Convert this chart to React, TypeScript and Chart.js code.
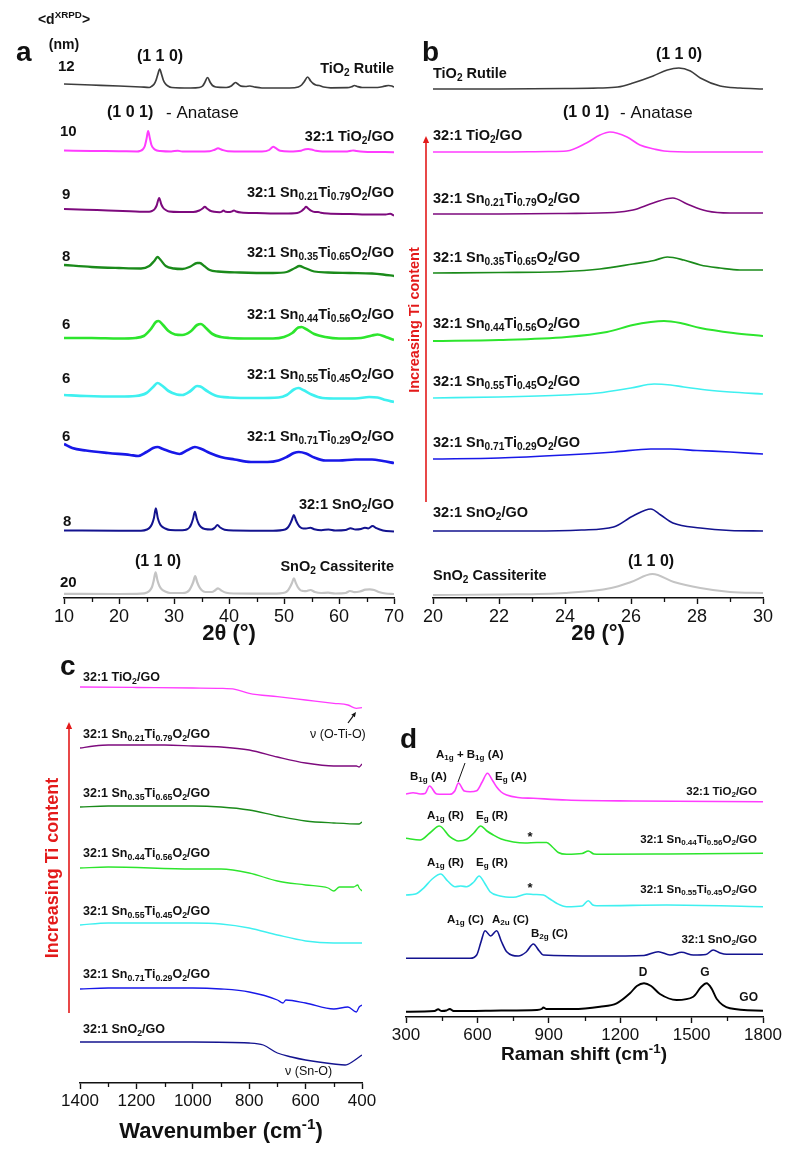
import React, { useEffect, useRef } from "react";
import { Chart, registerables } from "chart.js";
Chart.register(...registerables);

const FONT = "'Liberation Sans', Arial, Helvetica, sans-serif";
const W = 797;
const H = 1153;

type P = [number, number];

// ---------- Panel a : XRPD 2θ 10–70 (stacked intensities, a.u.) ----------
const aRutile: P[] = [[10,514],[15,513],[20,512],[24,511],[25.5,510.5],[26.0,512],[26.4,514],[26.75,518],[27.05,523.5],[27.4,529],[27.75,523.5],[28.05,518],[28.4,514.5],[28.9,512],[29.6,510.5],[33,510],[34.6,510.5],[35.2,512],[35.6,515.5],[36.1,520.5],[36.6,515.5],[37.0,512.5],[37.6,511],[39.5,510.5],[40.4,512],[40.9,514.5],[41.2,515.5],[41.6,514],[42.2,511.8],[43,511.5],[43.8,512],[44.6,511],[46,510],[51,510],[52.6,511],[53.2,513],[53.7,516.5],[54.3,521],[54.85,517],[55.3,514.5],[55.8,513],[56.4,512.5],[57.2,511],[58.5,510.2],[61.5,510.3],[62.3,511.3],[62.8,512.5],[63.3,511.5],[64.2,510.5],[67,510.5],[68.3,511.8],[69,512.5],[69.6,512],[70,511]];
const aTiO2GO: P[] = [[10,447.5],[15,447],[20,446.8],[23.3,446.5],[23.8,447],[24.3,448.5],[24.7,452],[25.0,459],[25.3,467],[25.6,460],[25.9,453],[26.3,449.5],[26.9,447.5],[27.5,447],[29.5,446.5],[30.7,447.3],[31.5,446.5],[36.5,446.8],[37.4,448.3],[38.0,449.7],[38.7,448.3],[39.8,446.8],[46,446.5],[47.3,448],[47.8,450.5],[48.05,451.3],[48.5,449.8],[49.3,447.3],[51,446.5],[53.1,447.3],[53.9,448.8],[54.4,449],[55,448.5],[55.8,447.3],[57,446.5],[61.5,446.5],[62.2,447.2],[62.6,447.6],[63.2,447],[64.5,446.3],[70,445.8]];
const aSn21: P[] = [[10,389],[14,388.3],[18,387.5],[22,386.8],[25.5,386.3],[26.0,387],[26.5,389],[26.85,392.5],[27.3,400],[27.7,393.5],[28.05,390],[28.5,388],[29.1,386.5],[31,386],[33.5,386],[34.6,387.5],[35.2,389.5],[35.6,391.3],[36.0,389.5],[36.5,387.5],[37.3,386.2],[38.3,385.8],[38.7,386.4],[39.0,387.5],[39.4,386.2],[40.2,386],[40.6,386.7],[40.9,387.6],[41.3,386.5],[42.2,385.5],[45,385],[50,384.5],[52.4,385],[53.2,387],[53.7,389.5],[54.0,391.3],[54.4,389.5],[54.9,387.3],[55.6,386],[56.2,386],[56.7,385.3],[58,384.5],[62,384],[66,383.5],[68.5,383.5],[69.3,384.2],[70,382.5]];
const aSn35: P[] = [[10,333],[15,331],[20,330],[24,329.5],[25.5,332],[26.4,337],[27.0,341],[27.5,338.5],[28.5,332],[30,329.5],[31.5,329],[33,331.5],[34.2,335],[34.7,335],[35.5,332],[36.5,328],[38,326.5],[42,325.5],[48,325],[50.5,326],[52,330],[52.8,332],[53.8,330],[55.5,326.5],[58,325.5],[62,325],[66,324.5],[68,323.5],[70,322]];
const aSn44: P[] = [[10,260],[15,260],[20,259.5],[23,260],[24.5,262],[25.8,269],[26.7,276],[27.2,277],[28,273],[29,267],[30.2,263.5],[31.5,263],[33,266.5],[34.2,273],[34.9,274],[35.8,270],[37,264],[38.5,261],[40,260],[44,259.5],[48,259.5],[50,261],[51.5,265],[52.6,270.5],[53.2,271],[54,269],[55.5,264],[57.5,261],[60,259.5],[64,260],[66,262.5],[67,263.5],[68.5,261],[70,258]];
const aSn55: P[] = [[10,203],[14,202],[20,201.5],[23,202],[25,205],[26.2,211],[27,215],[27.8,212.5],[29,207],[30.5,203.5],[31.5,203],[33,207],[34.2,212],[34.8,211.5],[36,207],[37.5,202.5],[40,200.5],[45,200],[49,200.5],[50.5,203],[51.8,208.5],[52.6,210],[53.5,208],[55,203.5],[57,200],[60,199.5],[63,199.5],[65.5,201],[67,200.5],[68.5,198],[70,196]];
const aSn71: P[] = [[10,154],[11.5,150],[14,147.5],[18,145],[22,143],[23.5,142],[25,146],[26.2,150],[27,151],[28,149],[29.5,146],[31,144],[32.5,148],[33.8,151],[35,149],[36.5,145],[38.5,141],[41,138.5],[44,136],[47,136],[49,137.5],[50.5,141],[51.8,145],[52.7,146],[54,144.5],[55.5,140.5],[57.5,137.5],[60,137.5],[63,138.5],[66,138.5],[68,137],[70,135]];
const aSnO2GO: P[] = [[10,67.5],[20,67.3],[24,67.3],[25.1,68.5],[25.6,70.5],[26.0,74],[26.35,80],[26.7,89.7],[27.05,80],[27.4,74.5],[27.8,71.5],[28.4,69.5],[29.3,68],[31.5,67.8],[32.3,68.5],[32.8,70.5],[33.15,74],[33.45,79],[33.8,86.3],[34.15,79],[34.5,74],[34.9,71],[35.6,69],[36.8,68.5],[37.4,70.2],[37.9,73],[38.4,70.5],[39.2,68.3],[41,67.5],[48,67.3],[50.2,68.5],[50.7,70.5],[51.1,74],[51.45,78.5],[51.8,83],[52.15,78],[52.5,74],[52.9,71],[53.5,69.5],[54.0,69.5],[54.8,70.3],[55.5,68.8],[56.8,67.8],[58.1,68.5],[59.3,67.5],[61.2,68],[62.1,69.8],[63,68.5],[64,69],[64.7,70.3],[65.3,69.6],[66.1,72],[66.8,69.8],[68,67.5],[70,66.5]];
const aCass: P[] = [[10,4.2],[20,4],[24,4.3],[25.1,5.5],[25.6,7.5],[26.0,11],[26.3,17],[26.65,25.7],[27.0,17.5],[27.35,12],[27.8,8.5],[28.4,6.5],[29.3,5],[31.5,5],[32.3,5.8],[32.8,8],[33.15,11.5],[33.5,16],[33.85,22],[34.2,16],[34.55,11.5],[35,8],[35.7,6],[36.9,6],[37.5,7.8],[38,9.7],[38.6,7.5],[39.5,5.2],[41,4.5],[48,4.3],[50.2,5.5],[50.7,7.5],[51.1,11],[51.45,15],[51.8,19.7],[52.15,15],[52.5,11],[52.95,8],[53.5,7],[54.0,6.8],[54.8,8],[55.6,6],[56.8,5],[58,5.3],[59.3,4.5],[61.2,5],[62.0,7],[62.8,5.8],[63.8,6.5],[64.8,8.3],[65.6,8.7],[66.4,8],[67.4,5.8],[68.5,4.5],[70,4]];

// ---------- Panel b : XRPD 2θ 20–30 ----------
const bRutile: P[] = [[20,509],[22,509],[24,509.5],[25,510],[25.6,511],[26.06,515],[26.67,522],[27.1,528],[27.45,530],[27.8,527],[28.1,520],[28.7,512],[29.3,510],[30,509]];
const bTiO2GO: P[] = [[20,446],[22,446],[23.5,446.5],[24.05,447],[24.65,455],[25.06,463],[25.36,466],[25.88,461],[26.27,453],[26.7,449],[27,447],[28,446],[30,446]];
const bSn21: P[] = [[20,384],[22,384],[24,384.5],[25.5,385.5],[26.06,388],[26.67,395],[27.27,400],[27.7,394],[28.3,387],[29,385],[30,385]];
const bSn35: P[] = [[20,325],[22,325.5],[24,326.5],[25.06,329],[26.06,334],[26.7,337.5],[27.1,341],[27.6,338],[28.1,333],[28.7,330],[29.3,328],[30,328]];
const bSn44: P[] = [[20,257],[22,258],[24.05,261],[25.27,266],[26.06,273],[26.6,276],[27,277],[27.5,275],[28.1,270],[29.1,265],[30,262]];
const bSn55: P[] = [[20,200],[22,201],[24,203],[25,205],[26.0,210],[26.7,214],[27.2,213],[27.6,211],[28.3,208],[29,206],[30,204]];
const bSn71: P[] = [[20,139],[22,140],[24,143],[25.5,146],[26.6,149],[27.2,149],[28,147.5],[29,146],[30,144]];
const bSnO2GO: P[] = [[20,67],[23,67],[24.5,68],[25.47,71],[26.06,82],[26.6,89],[26.9,83],[27.27,75],[28.1,70],[29,67.5],[30,67]];
const bCass: P[] = [[20,3],[22,3.5],[24,5],[25.4,10],[26,16],[26.65,24],[27.3,16],[28.1,10],[29,6],[30,5]];

// ---------- Panel c : FTIR 1400–400 cm-1 ----------
const cTiO2GO: P[] = [[1400,396],[1200,395.5],[1000,395],[900,394.7],[850,393.7],[800,389.7],[700,386.3],[600,383],[500,379.7],[450,378],[420,374.7],[400,375.3]];
const cSn21: P[] = [[1400,335],[1350,337],[1300,338],[1100,338],[1000,337],[900,336],[800,333],[700,326],[600,320],[500,317],[420,317],[410,316],[400,319]];
const cSn35: P[] = [[1400,276],[1300,277],[1000,277],[900,276],[800,273],[700,267],[600,262],[500,260],[410,259],[400,261]];
const cSn44: P[] = [[1400,215],[1300,216],[1000,214],[900,214],[800,210],[700,202],[600,198],[520,195],[500,192],[480,196],[430,196],[415,198],[410,195],[400,192]];
const cSn55: P[] = [[1400,158],[1300,160],[1000,160],[900,159],[800,155],[700,148],[600,142],[500,140],[400,140]];
const cSn71: P[] = [[1400,94],[1300,95],[1000,95],[900,94],[800,91],[700,83],[680,80],[670,83],[600,80],[500,74],[450,76],[420,71],[410,76],[400,78]];
const cSnO2GO: P[] = [[1400,41],[1000,41],[800,40],[750,38],[700,30],[650,26],[600,23],[500,19],[460,18],[430,22],[400,28]];

// ---------- Panel d : Raman 300–1800 cm-1 ----------
const dTiO2GO: P[] = [[300,223],[330,224.3],[360,223],[380,223.5],[399,231],[429,223],[484,222.7],[505,226],[520,234],[545,226],[569,225.3],[597,226.3],[620,235],[642,243.7],[665,236],[681,230],[700,225],[723,222],[770,219.5],[835,218.7],[975,217],[1255,216],[1800,215.3]];
const dSn44: P[] = [[300,178.7],[359,177],[400,184],[440,191],[484,180.3],[520,176],[555,177.7],[585,184],[614,191],[640,186],[667,182],[700,178],[723,176.5],[751,175],[800,174],[850,174.5],[891,174.5],[915,170],[940,164.5],[975,162.7],[1040,163.5],[1066,166],[1090,163],[1115,162.7],[1400,163],[1800,163.7]];
const dSn55: P[] = [[300,122],[340,123],[373,128.7],[410,138],[446,143],[475,136],[506,130.3],[530,131],[555,130.3],[585,135],[607,141],[630,134],[653,125.3],[695,121],[751,119.7],[807,123],[840,122.5],[877,122],[905,118],[933,113.7],[975,110.3],[1040,111],[1066,116.3],[1085,112],[1101,111.3],[1395,112],[1800,110.3]];
const dSnO2GO: P[] = [[300,58.7],[569,58.7],[597,62],[615,75],[632,86.3],[656,81],[681,86.3],[700,76],[723,65.3],[772,61],[805,65],[835,73],[860,66],[877,62],[1115,61],[1300,61.5],[1360,65.3],[1409,62],[1458,64.7],[1507,62],[1560,62.5],[1591,67],[1620,64],[1647,62.7],[1800,62.7]];
const dGO: P[] = [[300,5.3],[420,6],[435,7.7],[450,6],[470,6.5],[484,8],[500,6],[560,6],[700,6.5],[850,7],[870,8],[877,9.5],[890,8],[960,8],[1000,8],[1115,10.3],[1185,13.7],[1241,23.7],[1270,31],[1300,33.7],[1330,31],[1367,23],[1437,17],[1507,20.3],[1540,30],[1563,33.7],[1585,28],[1605,18.3],[1661,8.7],[1800,6.3]];

// minor tick values
const aMinor = [15, 25, 35, 45, 55, 65];
const bMinor = [21, 23, 25, 27, 29];
const cMinor = [1300, 1100, 900, 700, 500];
const dMinor = [450, 750, 1050, 1350, 1650];

// colours
const C = {
  rutile: "#3d3d3d",
  tio2: "#ff3cff",
  sn21: "#7d0a7d",
  sn35: "#1a8a1a",
  sn44: "#2de52d",
  sn55: "#3ff0f0",
  sn71: "#1818e8",
  sno2: "#13138f",
  cass: "#c4c4c4",
  go: "#000000",
  red: "#e31a1a",
};

type Lab = { x: number; y: number; t: string; s: number; b?: boolean; a?: "left" | "right" | "center"; c?: string; rot?: boolean };
type Arrow = { x1: number; y1: number; x2: number; y2: number; c: string; w: number; head: number };

function parseRich(t: string) {
  const out: { t: string; m: number }[] = [];
  const re = /(_\{[^}]*\}|\^\{[^}]*\})/;
  t.split(re).forEach((p) => {
    if (!p) return;
    if (p.startsWith("_{")) out.push({ t: p.slice(2, -1), m: 1 });
    else if (p.startsWith("^{")) out.push({ t: p.slice(2, -1), m: 2 });
    else out.push({ t: p, m: 0 });
  });
  return out;
}

function drawRich(ctx: CanvasRenderingContext2D, L: Lab) {
  const segs = parseRich(L.t);
  const fonts = segs.map((s) => `${L.b ? "bold " : ""}${s.m ? L.s * 0.7 : L.s}px ${FONT}`);
  const widths = segs.map((s, i) => {
    ctx.font = fonts[i];
    return ctx.measureText(s.t).width;
  });
  const total = widths.reduce((a, b) => a + b, 0);
  ctx.save();
  ctx.fillStyle = L.c || "#111";
  ctx.textBaseline = "middle";
  ctx.textAlign = "left";
  let x0 = L.x;
  let y0 = L.y;
  if (L.rot) {
    ctx.translate(L.x, L.y);
    ctx.rotate(-Math.PI / 2);
    x0 = 0;
    y0 = 0;
  }
  let cx = L.a === "right" ? x0 - total : L.a === "center" ? x0 - total / 2 : x0;
  segs.forEach((s, i) => {
    ctx.font = fonts[i];
    const dy = s.m === 1 ? L.s * 0.28 : s.m === 2 ? -L.s * 0.32 : 0;
    ctx.fillText(s.t, cx, y0 + dy);
    cx += widths[i];
  });
  ctx.restore();
}

function drawArrow(ctx: CanvasRenderingContext2D, A: Arrow) {
  ctx.save();
  ctx.strokeStyle = A.c;
  ctx.fillStyle = A.c;
  ctx.lineWidth = A.w;
  const ang = Math.atan2(A.y2 - A.y1, A.x2 - A.x1);
  const hx = A.x2 - Math.cos(ang) * A.head;
  const hy = A.y2 - Math.sin(ang) * A.head;
  ctx.beginPath();
  ctx.moveTo(A.x1, A.y1);
  ctx.lineTo(A.head > 0 ? hx : A.x2, A.head > 0 ? hy : A.y2);
  ctx.stroke();
  if (A.head > 0) {
    const hw = A.head * 0.45;
    ctx.beginPath();
    ctx.moveTo(A.x2, A.y2);
    ctx.lineTo(hx + Math.sin(ang) * hw, hy - Math.cos(ang) * hw);
    ctx.lineTo(hx - Math.sin(ang) * hw, hy + Math.cos(ang) * hw);
    ctx.closePath();
    ctx.fill();
  }
  ctx.restore();
}

type Series = { d: P[]; c: string; w: number };
type PanelCfg = {
  series: Series[];
  xmin: number;
  xmax: number;
  step: number;
  reverse?: boolean;
  minor: number[];
  area: { l: number; r: number; t: number; b: number };
  tickSize: number;
  labels: Lab[];
  arrows: Arrow[];
};

const LAB = 14.5;
const s21 = "32:1 Sn_{0.21}Ti_{0.79}O_{2}/GO";
const s35 = "32:1 Sn_{0.35}Ti_{0.65}O_{2}/GO";
const s44 = "32:1 Sn_{0.44}Ti_{0.56}O_{2}/GO";
const s55 = "32:1 Sn_{0.55}Ti_{0.45}O_{2}/GO";
const s71 = "32:1 Sn_{0.71}Ti_{0.29}O_{2}/GO";
const sTi = "32:1 TiO_{2}/GO";
const sSn = "32:1 SnO_{2}/GO";

const panelA: PanelCfg = {
  series: [
    { d: aRutile, c: C.rutile, w: 1.7 },
    { d: aTiO2GO, c: C.tio2, w: 2 },
    { d: aSn21, c: C.sn21, w: 2 },
    { d: aSn35, c: C.sn35, w: 2.3 },
    { d: aSn44, c: C.sn44, w: 2.7 },
    { d: aSn55, c: C.sn55, w: 2.7 },
    { d: aSn71, c: C.sn71, w: 2.7 },
    { d: aSnO2GO, c: C.sno2, w: 2 },
    { d: aCass, c: C.cass, w: 2.2 },
  ],
  xmin: 10, xmax: 70, step: 10, minor: aMinor,
  area: { l: 64, r: 394, t: 30, b: 598 }, tickSize: 18,
  labels: [
    { x: 16, y: 53, t: "a", s: 28, b: true },
    { x: 64, y: 20, t: "<d^{XRPD}>", s: 14, b: true, a: "center" },
    { x: 64, y: 45, t: "(nm)", s: 14, b: true, a: "center" },
    { x: 58, y: 67, t: "12", s: 15, b: true },
    { x: 60, y: 132, t: "10", s: 15, b: true },
    { x: 62, y: 195, t: "9", s: 15, b: true },
    { x: 62, y: 257, t: "8", s: 15, b: true },
    { x: 62, y: 325, t: "6", s: 15, b: true },
    { x: 62, y: 379, t: "6", s: 15, b: true },
    { x: 62, y: 437, t: "6", s: 15, b: true },
    { x: 63, y: 522, t: "8", s: 15, b: true },
    { x: 60, y: 583, t: "20", s: 15, b: true },
    { x: 160, y: 57, t: "(1 1 0)", s: 16, b: true, a: "center" },
    { x: 107, y: 113, t: "(1 0 1)", s: 16, b: true },
    { x: 166, y: 113, t: "- Anatase", s: 17 },
    { x: 158, y: 562, t: "(1 1 0)", s: 16, b: true, a: "center" },
    { x: 394, y: 69, t: "TiO_{2} Rutile", s: LAB, b: true, a: "right" },
    { x: 394, y: 137, t: sTi, s: LAB, b: true, a: "right" },
    { x: 394, y: 193, t: s21, s: LAB, b: true, a: "right" },
    { x: 394, y: 253, t: s35, s: LAB, b: true, a: "right" },
    { x: 394, y: 315, t: s44, s: LAB, b: true, a: "right" },
    { x: 394, y: 375, t: s55, s: LAB, b: true, a: "right" },
    { x: 394, y: 437, t: s71, s: LAB, b: true, a: "right" },
    { x: 394, y: 505, t: sSn, s: LAB, b: true, a: "right" },
    { x: 394, y: 567, t: "SnO_{2} Cassiterite", s: LAB, b: true, a: "right" },
    { x: 229, y: 634, t: "2θ (°)", s: 22, b: true, a: "center" },
  ],
  arrows: [],
};

const panelB: PanelCfg = {
  series: [
    { d: bRutile, c: C.rutile, w: 1.5 },
    { d: bTiO2GO, c: C.tio2, w: 1.6 },
    { d: bSn21, c: C.sn21, w: 1.6 },
    { d: bSn35, c: C.sn35, w: 1.7 },
    { d: bSn44, c: C.sn44, w: 1.9 },
    { d: bSn55, c: C.sn55, w: 1.7 },
    { d: bSn71, c: C.sn71, w: 1.7 },
    { d: bSnO2GO, c: C.sno2, w: 1.6 },
    { d: bCass, c: C.cass, w: 1.9 },
  ],
  xmin: 20, xmax: 30, step: 2, minor: bMinor,
  area: { l: 433, r: 763, t: 30, b: 598 }, tickSize: 18,
  labels: [
    { x: 422, y: 53, t: "b", s: 28, b: true },
    { x: 679, y: 55, t: "(1 1 0)", s: 16, b: true, a: "center" },
    { x: 563, y: 113, t: "(1 0 1)", s: 16, b: true },
    { x: 620, y: 113, t: "- Anatase", s: 17 },
    { x: 651, y: 562, t: "(1 1 0)", s: 16, b: true, a: "center" },
    { x: 433, y: 74, t: "TiO_{2} Rutile", s: LAB, b: true },
    { x: 433, y: 136, t: sTi, s: LAB, b: true },
    { x: 433, y: 199, t: s21, s: LAB, b: true },
    { x: 433, y: 258, t: s35, s: LAB, b: true },
    { x: 433, y: 324, t: s44, s: LAB, b: true },
    { x: 433, y: 382, t: s55, s: LAB, b: true },
    { x: 433, y: 443, t: s71, s: LAB, b: true },
    { x: 433, y: 513, t: sSn, s: LAB, b: true },
    { x: 433, y: 576, t: "SnO_{2} Cassiterite", s: LAB, b: true },
    { x: 415, y: 320, t: "Increasing Ti content", s: 14.5, b: true, a: "center", c: C.red, rot: true },
    { x: 598, y: 634, t: "2θ (°)", s: 22, b: true, a: "center" },
  ],
  arrows: [{ x1: 426, y1: 502, x2: 426, y2: 136, c: C.red, w: 1.6, head: 7 }],
};

const panelC: PanelCfg = {
  series: [
    { d: cTiO2GO, c: C.tio2, w: 1.3 },
    { d: cSn21, c: C.sn21, w: 1.3 },
    { d: cSn35, c: C.sn35, w: 1.3 },
    { d: cSn44, c: C.sn44, w: 1.3 },
    { d: cSn55, c: C.sn55, w: 1.3 },
    { d: cSn71, c: C.sn71, w: 1.3 },
    { d: cSnO2GO, c: C.sno2, w: 1.3 },
  ],
  xmin: 400, xmax: 1400, step: 200, reverse: true, minor: cMinor,
  area: { l: 80, r: 362, t: 670, b: 1083 }, tickSize: 17,
  labels: [
    { x: 60, y: 667, t: "c", s: 28, b: true },
    { x: 83, y: 678, t: sTi, s: 12.5, b: true },
    { x: 83, y: 735, t: s21, s: 12.5, b: true },
    { x: 83, y: 794, t: s35, s: 12.5, b: true },
    { x: 83, y: 854, t: s44, s: 12.5, b: true },
    { x: 83, y: 912, t: s55, s: 12.5, b: true },
    { x: 83, y: 975, t: s71, s: 12.5, b: true },
    { x: 83, y: 1030, t: sSn, s: 12.5, b: true },
    { x: 310, y: 735, t: "ν (O-Ti-O)", s: 12.5 },
    { x: 285, y: 1072, t: "ν (Sn-O)", s: 12.5 },
    { x: 53, y: 868, t: "Increasing Ti content", s: 18, b: true, a: "center", c: C.red, rot: true },
    { x: 221, y: 1132, t: "Wavenumber (cm^{-1})", s: 22, b: true, a: "center" },
  ],
  arrows: [
    { x1: 69, y1: 1013, x2: 69, y2: 722, c: C.red, w: 1.6, head: 7 },
    { x1: 348, y1: 723, x2: 356, y2: 712, c: "#111", w: 1.2, head: 5 },
  ],
};

const DL = 11.5;
const panelD: PanelCfg = {
  series: [
    { d: dTiO2GO, c: C.tio2, w: 1.6 },
    { d: dSn44, c: C.sn44, w: 1.6 },
    { d: dSn55, c: C.sn55, w: 1.6 },
    { d: dSnO2GO, c: C.sno2, w: 1.6 },
    { d: dGO, c: C.go, w: 1.9 },
  ],
  xmin: 300, xmax: 1800, step: 300, minor: dMinor,
  area: { l: 406, r: 763, t: 745, b: 1017 }, tickSize: 17,
  labels: [
    { x: 400, y: 740, t: "d", s: 28, b: true },
    { x: 436, y: 755, t: "A_{1g} + B_{1g} (A)", s: DL, b: true },
    { x: 410, y: 777, t: "B_{1g} (A)", s: DL, b: true },
    { x: 495, y: 777, t: "E_{g} (A)", s: DL, b: true },
    { x: 757, y: 792, t: sTi, s: DL, b: true, a: "right" },
    { x: 427, y: 816, t: "A_{1g} (R)", s: DL, b: true },
    { x: 476, y: 816, t: "E_{g} (R)", s: DL, b: true },
    { x: 530, y: 837, t: "*", s: 13, b: true, a: "center" },
    { x: 757, y: 840, t: s44, s: DL, b: true, a: "right" },
    { x: 427, y: 863, t: "A_{1g} (R)", s: DL, b: true },
    { x: 476, y: 863, t: "E_{g} (R)", s: DL, b: true },
    { x: 530, y: 888, t: "*", s: 13, b: true, a: "center" },
    { x: 757, y: 890, t: s55, s: DL, b: true, a: "right" },
    { x: 447, y: 920, t: "A_{1g} (C)", s: DL, b: true },
    { x: 492, y: 920, t: "A_{2u} (C)", s: DL, b: true },
    { x: 531, y: 934, t: "B_{2g} (C)", s: DL, b: true },
    { x: 757, y: 940, t: sSn, s: DL, b: true, a: "right" },
    { x: 643, y: 973, t: "D", s: 12, b: true, a: "center" },
    { x: 705, y: 973, t: "G", s: 12, b: true, a: "center" },
    { x: 758, y: 998, t: "GO", s: 12, b: true, a: "right" },
    { x: 584, y: 1055, t: "Raman shift (cm^{-1})", s: 19, b: true, a: "center" },
  ],
  arrows: [{ x1: 465, y1: 763, x2: 458, y2: 782, c: "#111", w: 1, head: 0 }],
};

const AXIS_H = 40;

function makeChart(canvas: HTMLCanvasElement, p: PanelCfg) {
  const overlay = {
    id: "overlay",
    afterDraw(chart: any) {
      const ctx: CanvasRenderingContext2D = chart.ctx;
      const xs = chart.scales.x;
      const yb = chart.chartArea.bottom;
      ctx.save();
      ctx.strokeStyle = "#111";
      ctx.lineWidth = 1.3;
      p.minor.forEach((v) => {
        const px = Math.round(xs.getPixelForValue(v)) + 0.5;
        ctx.beginPath();
        ctx.moveTo(px, yb);
        ctx.lineTo(px, yb + 4);
        ctx.stroke();
      });
      ctx.restore();
      p.arrows.forEach((a) => drawArrow(ctx, a));
      p.labels.forEach((l) => drawRich(ctx, l));
    },
  };
  return new Chart(canvas, {
    type: "line",
    data: {
      datasets: p.series.map((s) => ({
        data: s.d.map(([x, y]) => ({ x, y })),
        borderColor: s.c,
        borderWidth: s.w,
        pointRadius: 0,
        fill: false,
        cubicInterpolationMode: "monotone" as const,
      })),
    },
    options: {
      responsive: false,
      animation: false,
      events: [],
      layout: {
        padding: { left: p.area.l, right: W - p.area.r, top: p.area.t, bottom: H - p.area.b - AXIS_H },
      },
      plugins: { legend: { display: false }, tooltip: { enabled: false }, title: { display: false } },
      scales: {
        x: {
          type: "linear",
          min: p.xmin,
          max: p.xmax,
          reverse: !!p.reverse,
          position: "bottom",
          ticks: {
            stepSize: p.step,
            autoSkip: false,
            maxRotation: 0,
            padding: 2,
            color: "#111",
            font: { size: p.tickSize, family: FONT },
            callback: (v: any) => String(v),
          },
          grid: { drawOnChartArea: false, drawTicks: true, tickLength: 6, tickWidth: 1.4, tickColor: "#111" },
          border: { display: true, color: "#111", width: 1.5 },
          afterFit: (s: any) => {
            s.height = AXIS_H;
            s.paddingLeft = 0;
            s.paddingRight = 0;
          },
        },
        y: { display: false, min: 0, max: p.area.b - p.area.t },
      },
    },
    plugins: [overlay],
  } as any);
}

const PANELS = [panelA, panelB, panelC, panelD];

export default function App() {
  const refs = [useRef<HTMLCanvasElement>(null), useRef<HTMLCanvasElement>(null), useRef<HTMLCanvasElement>(null), useRef<HTMLCanvasElement>(null)];
  useEffect(() => {
    const charts = PANELS.map((p, i) => makeChart(refs[i].current!, p));
    return () => charts.forEach((c) => c.destroy());
  }, []);
  return (
    <div style={{ position: "absolute", left: 0, top: 0, width: W, height: H, background: "#fff" }}>
      {PANELS.map((_, i) => (
        <canvas key={i} ref={refs[i]} width={W} height={H} style={{ position: "absolute", left: 0, top: 0, width: W, height: H }} />
      ))}
    </div>
  );
}
